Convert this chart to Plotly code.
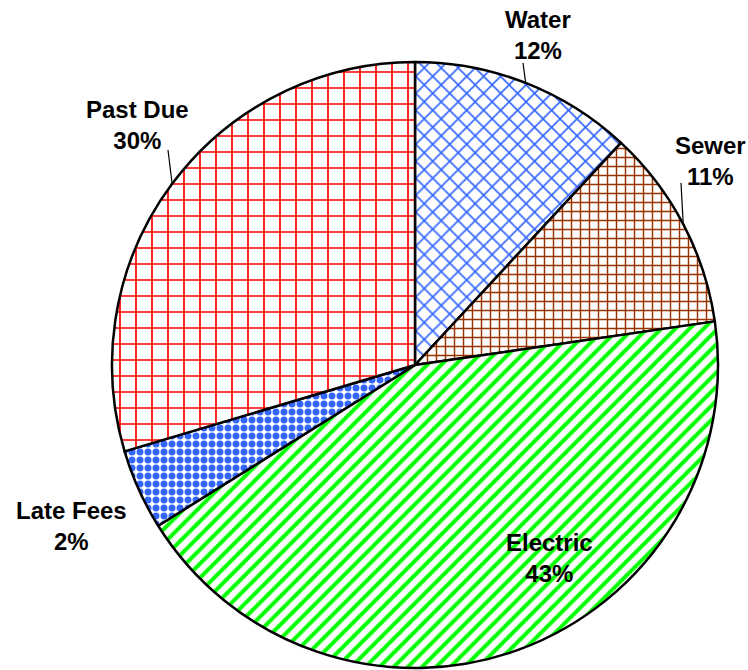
import math
import plotly.graph_objects as go

categories = ["Water", "Sewer", "Electric", "Late Fees", "Past Due"]
values = [11.9, 10.8, 43.4, 4.3, 29.6]
pct_labels = ["12%", "11%", "43%", "2%", "30%"]

fg_colors = ["#3366FF", "#993300", "#00FF00", "#3366FF", "#FF0000"]
shapes = ["x", "+", "/", ".", "+"]
sizes = [12, 9, 10, 8, 16]
solid = [0.25, 0.3, 0.4, 0.6, 0.2]

W, H = 748, 670
CX, CY, R = 415, 365, 303  # pie centre / radius in pixels

# label anchor (centre of text block) and leader-line top end, in pixels
label_pos = [(538, 35), (710, 161), (549, 558), (71, 526), (137, 125)]
leader_top = [(523, 63), (681, 183), None, None, (168, 150)]

fig = go.Figure(go.Pie(
    labels=categories,
    values=values,
    textinfo="none",
    sort=False,
    direction="clockwise",
    rotation=0,
    marker=dict(
        colors=["white"] * 5,
        line=dict(color="black", width=2.5),
        pattern=dict(shape=shapes, fgcolor=fg_colors, bgcolor="white",
                     size=sizes, solidity=solid, fgopacity=1, fillmode="overlay"),
    ),
    domain=dict(x=[(CX - R) / W, (CX + R) / W], y=[1 - (CY + R) / H, 1 - (CY - R) / H]),
    showlegend=False,
    hoverinfo="label+percent",
))

total = sum(values)
cum = 0
for i, (cat, v, pct) in enumerate(zip(categories, values, pct_labels)):
    mid = (cum + v / 2) / total * 2 * math.pi
    cum += v
    lx, ly = label_pos[i]
    fig.add_annotation(x=lx / W, y=1 - ly / H, xref="paper", yref="paper",
                       text=f"<b>{cat}<br>{pct}</b>", showarrow=False,
                       xanchor="center", yanchor="middle",
                       font=dict(family="Liberation Sans", size=24, color="black"))
    if leader_top[i] is not None:
        ex, ey = CX + R * math.sin(mid), CY - R * math.cos(mid)
        tx, ty = leader_top[i]
        fig.add_shape(type="line", xref="paper", yref="paper",
                      x0=ex / W, y0=1 - ey / H, x1=tx / W, y1=1 - ty / H,
                      line=dict(color="black", width=1.2))

fig.update_layout(width=W, height=H, margin=dict(l=0, r=0, t=0, b=0),
                  paper_bgcolor="white", plot_bgcolor="white")
fig.write_html("out.html", config={"displayModeBar": False},
               post_script="document.body.style.margin='0';document.body.style.overflow='hidden';")
